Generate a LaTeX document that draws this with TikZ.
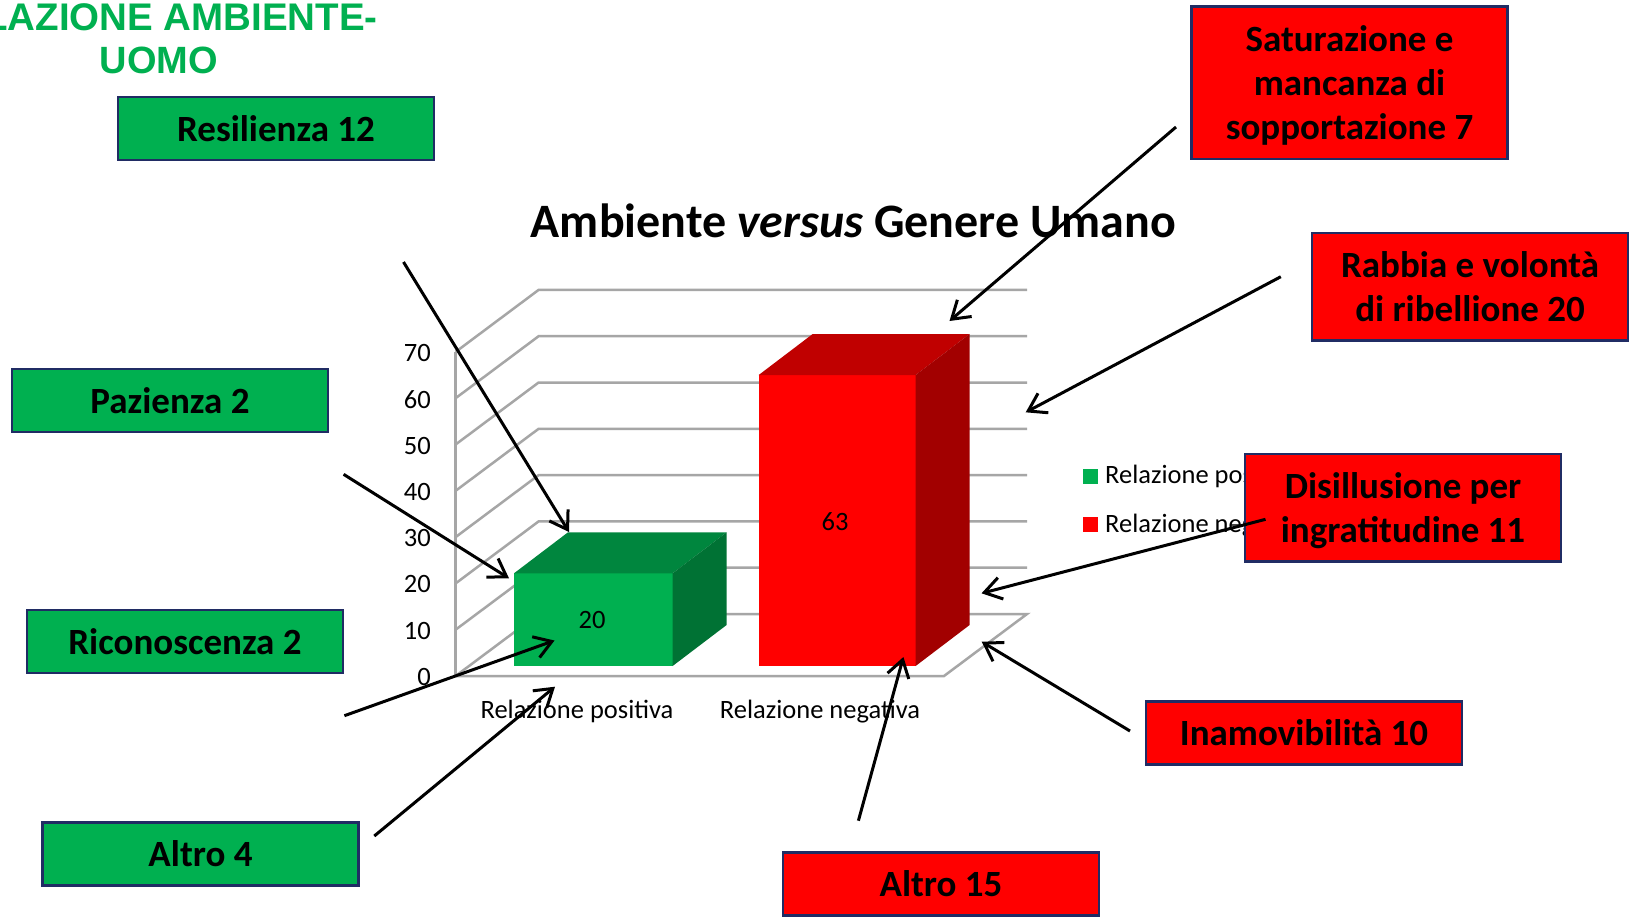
\documentclass[tikz,border=0pt]{standalone}
\usepackage{fontspec}
\setmainfont{Carlito}
\newfontfamily\arialfont{Liberation Sans}
\usetikzlibrary{arrows.meta}
\definecolor{boxgreen}{RGB}{0,176,80}
\definecolor{boxred}{RGB}{255,0,0}
\definecolor{boxborder}{RGB}{32,44,100}
\definecolor{gridgray}{RGB}{166,166,166}
\definecolor{gtop}{RGB}{0,134,62}
\definecolor{gside}{RGB}{0,114,52}
\definecolor{rtop}{RGB}{192,0,0}
\definecolor{rside}{RGB}{162,0,0}
\begin{document}
\begin{tikzpicture}[x=1pt,y=-1pt,
  lbl/.style={draw=boxborder, line width=2.5pt, minimum width=316pt, inner sep=0pt,
    font=\fontsize{37}{44}\selectfont\bfseries, align=center, text=black},
  gbox/.style={lbl, fill=boxgreen, minimum height=63pt},
  rbox/.style={lbl, fill=boxred},
  gridln/.style={draw=gridgray, line width=2.5pt, line join=miter},
  ptr/.style={draw=black, line width=3pt, -{Straight Barb[length=17pt,width=22pt]}},
  chtxt/.style={font=\fontsize{26.5}{30}\selectfont, inner sep=0pt, text=black}]
\useasboundingbox (0,0) rectangle (1630,922);
\fill[white] (0,0) rectangle (1630,922);

% top-left heading
\node[anchor=base east, inner sep=0pt, text=boxgreen,
  font={\arialfont\bfseries\fontsize{38.5}{38.5}\selectfont}] (head1) at (378,30) {LAZIONE AMBIENTE-};
\node[anchor=base, inner sep=0pt, text=boxgreen,
  font={\arialfont\bfseries\fontsize{38}{38}\selectfont}] (head2) at (159,73.3) {UOMO};

% chart title
\node[anchor=base, inner sep=0pt, font={\bfseries\fontsize{48}{48}\selectfont}] (title) at (853.5,237)
  {Ambiente \textit{versus} Genere Umano};

% grid
\foreach \k in {1,...,7} {
  \draw[gridln] (455.6,{676-46.3*\k}) -- (538.6,{614-46.3*\k}) -- (1027,{614-46.3*\k});
}
\draw[gridln] (455.6,676) -- (538.6,614) -- (1027,614) -- (944,676) -- cycle;
\draw[gridln] (455.6,676) -- (455.6,{676-46.3*7});

% axis labels
\foreach \k in {0,...,7} {
  \pgfmathtruncatemacro{\v}{10*\k}
  \node[chtxt, anchor=east] (ylab\k) at (431,{677-46.3*\k}) {\v};
}
\node[chtxt, anchor=base] (catpos) at (577,718.5) {Relazione positiva};
\node[chtxt, anchor=base] (catneg) at (820,718.5) {Relazione negativa};

% green bar
\fill[boxgreen] (514,573.3) rectangle (672.6,666);
\fill[gtop] (514,573.3) -- (568,532.3) -- (726.6,532.3) -- (672.6,573.3) -- cycle;
\fill[gside] (672.6,573.3) -- (726.6,532.3) -- (726.6,625) -- (672.6,666) -- cycle;
% red bar
\fill[boxred] (758.7,375) rectangle (915.6,666);
\fill[rtop] (758.7,375) -- (812.7,334) -- (969.6,334) -- (915.6,375) -- cycle;
\fill[rside] (915.6,375) -- (969.6,334) -- (969.6,625) -- (915.6,666) -- cycle;

\node[chtxt] (v20) at (592,620) {20};
\node[chtxt] (v63) at (835,521.5) {63};

% legend
\fill[boxgreen] (1083,469) rectangle (1098,484);
\node[chtxt, anchor=base west] (legpos) at (1105,483.5) {Relazione positiva};
\fill[boxred] (1083,517) rectangle (1098,532);
\node[chtxt, anchor=base west] (legneg) at (1105,532) {Relazione negativa};

% label boxes
\node[gbox] (res) at (276,128.5) {Resilienza 12};
\node[gbox] (paz) at (170,400.5) {Pazienza 2};
\node[gbox] (ric) at (185,641.5) {Riconoscenza 2};
\node[gbox] (alt4) at (200.5,854) {Altro 4};
\node[rbox, minimum height=152.5pt, text depth=0pt] (sat) at (1349.5,82.5) {Saturazione e\\mancanza di\\sopportazione 7};
\node[rbox, minimum height=107.5pt] (rab) at (1470,286.7) {Rabbia e volontà\\di ribellione 20};
\node[rbox, minimum height=107.5pt, text depth=0pt] (dis) at (1403,507.7) {Disillusione per\\ingratitudine 11};
\node[rbox, minimum height=63pt] (ina) at (1304,733) {Inamovibilità 10};
\node[rbox, minimum height=63pt] (alt15) at (941,884) {Altro 15};

% arrow ends
\coordinate (sres) at (403.5,262);   \coordinate (tres) at (569,532);
\coordinate (spaz) at (343.6,474.3); \coordinate (tpaz) at (509,578.3);
\coordinate (sric) at (344.4,715.7); \coordinate (tric) at (554.5,640.5);
\coordinate (salt4) at (374.3,836);  \coordinate (talt4) at (555,686.7);
\coordinate (ssat) at (1176,127);    \coordinate (tsat) at (949.5,321);
\coordinate (srab) at (1280.8,276.7);\coordinate (trab) at (1025.7,412.3);
\coordinate (sdis) at (1265.5,519.3);\coordinate (tdis) at (981.5,593.3);
\coordinate (sina) at (1130,731);    \coordinate (tina) at (981.7,641.7);
\coordinate (salt15) at (858.4,820.7);\coordinate (talt15) at (903.4,657);

\draw[ptr] (sres) -- (tres);
\draw[ptr] (spaz) -- (tpaz);
\draw[ptr] (sric) -- (tric);
\draw[ptr] (salt4) -- (talt4);
\draw[ptr] (ssat) -- (tsat);
\draw[ptr] (srab) -- (trab);
\draw[ptr] (sdis) -- (tdis);
\draw[ptr] (sina) -- (tina);
\draw[ptr] (salt15) -- (talt15);
\end{tikzpicture}
\end{document}
